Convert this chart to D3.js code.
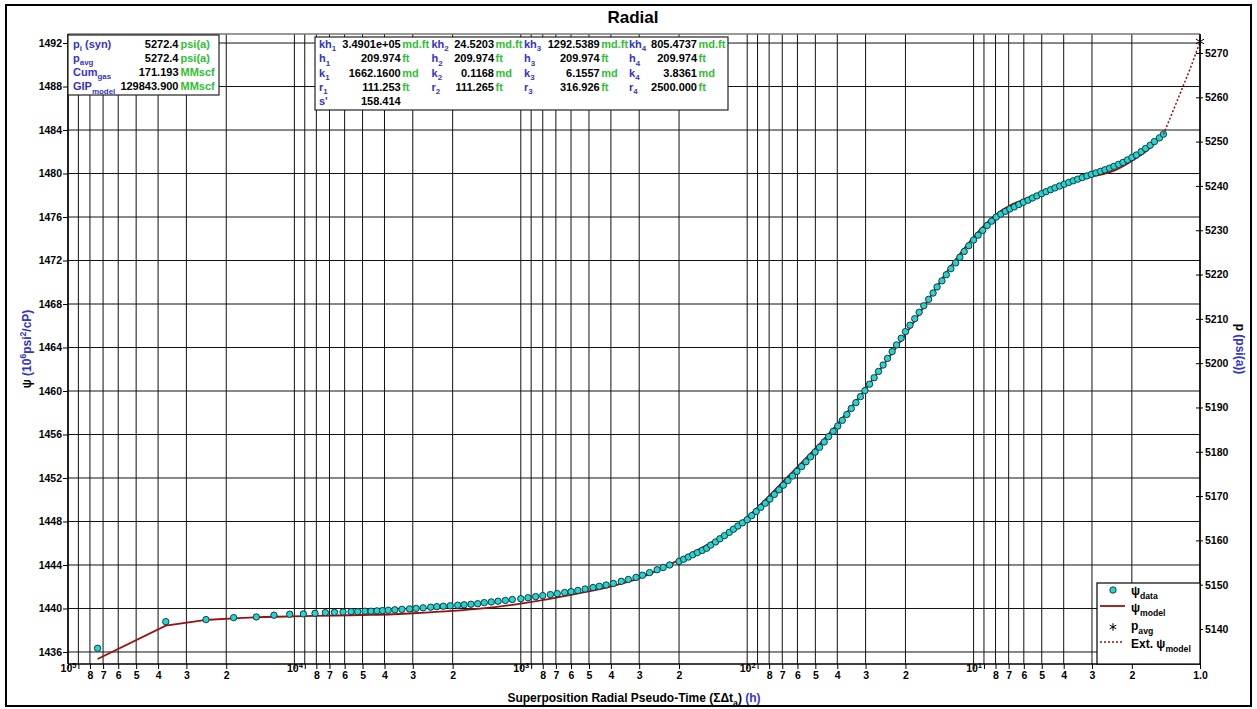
<!DOCTYPE html>
<html>
<head>
<meta charset="utf-8">
<script src="https://cdn.jsdelivr.net/npm/d3@7"></script>
<style>
	body { margin: 0; background: #fff; }
	svg text { font-family: "Liberation Sans", Arial, sans-serif; font-weight: bold; }
</style>
</head>
<body>
<script>
// Measured data (superposition time in h, pseudo-pressure in 10^6 psi2/cP)
const dataTime = [74000, 37000, 24580, 18550, 14730, 12310, 10490, 9130, 8110, 7300, 6660, 6100, 5620, 5255, 4877, 4588, 4318,
	4080, 3850, 3600, 3350, 3100, 2900, 2700, 2500, 2350, 2200, 2050, 1900, 1780, 1660, 1550, 1450, 1350, 1260, 1170, 1090,
	1000, 930, 860, 800, 740, 690, 640, 600, 560, 520, 480, 450, 420, 390, 360, 335, 310, 290, 270, 250, 235, 220,
	200, 191, 182, 174, 166, 158, 151, 145, 138, 132, 126, 120, 115, 110, 105,
	100, 95.5, 91.2, 87.1, 83.2, 79.4, 75.9, 72.4, 69.2, 66.1, 63.1, 60.3, 57.5, 55.0, 52.5, 50.1, 47.9, 45.7, 43.7, 41.7,
	39.8, 38.0, 36.3, 34.7, 33.1, 31.6, 30.2, 28.8, 27.5, 26.3, 25.1, 24.0, 22.9, 21.9, 20.9, 20.0, 19.1, 18.2, 17.4, 16.6,
	15.8, 15.1, 14.5, 13.8, 13.2, 12.6, 12.0, 11.5, 11.0, 10.5,
	10.0, 9.55, 9.12, 8.71, 8.32, 7.94, 7.59, 7.24, 6.92, 6.61, 6.31, 6.03, 5.75, 5.50, 5.25, 5.01, 4.79, 4.57, 4.37, 4.17,
	3.98, 3.80, 3.63, 3.47, 3.31, 3.16, 3.02, 2.88, 2.75, 2.63, 2.51, 2.40, 2.29, 2.19, 2.09, 2.00, 1.91, 1.82, 1.74, 1.66,
	1.59, 1.51, 1.45];
const dataPsi = [1436.34, 1438.79, 1438.98, 1439.16, 1439.22, 1439.38, 1439.47, 1439.50, 1439.56, 1439.62, 1439.65, 1439.68, 1439.71, 1439.71, 1439.75, 1439.75, 1439.78,
	1439.81, 1439.84, 1439.88, 1439.92, 1439.96, 1440.01, 1440.06, 1440.12, 1440.17, 1440.21, 1440.25, 1440.30, 1440.34, 1440.39, 1440.44, 1440.54, 1440.60, 1440.67, 1440.74, 1440.82,
	1440.90, 1440.99, 1441.09, 1441.18, 1441.28, 1441.37, 1441.47, 1441.55, 1441.66, 1441.79, 1441.93, 1442.04, 1442.16, 1442.30, 1442.50, 1442.67, 1442.86, 1443.06, 1443.30, 1443.56, 1443.77, 1444.00,
	1444.33, 1444.53, 1444.73, 1444.94, 1445.14, 1445.34, 1445.54, 1445.83, 1446.12, 1446.41, 1446.70, 1447.00, 1447.29, 1447.58, 1447.87,
	1448.16, 1448.54, 1448.92, 1449.30, 1449.68, 1450.06, 1450.49, 1450.91, 1451.34, 1451.76, 1452.18, 1452.61, 1453.05, 1453.49, 1453.94, 1454.38, 1454.82, 1455.31, 1455.80, 1456.29,
	1456.78, 1457.30, 1457.84, 1458.39, 1458.93, 1459.48, 1460.04, 1460.63, 1461.22, 1461.80, 1462.39, 1463.00, 1463.62, 1464.24, 1464.85, 1465.46, 1466.05, 1466.65, 1467.24, 1467.84,
	1468.43, 1469.01, 1469.57, 1470.13, 1470.69, 1471.25, 1471.78, 1472.30, 1472.83, 1473.36,
	1473.88, 1474.33, 1474.77, 1475.22, 1475.62, 1476.00, 1476.27, 1476.52, 1476.74, 1476.93, 1477.15, 1477.36, 1477.55, 1477.75, 1477.94, 1478.14, 1478.33, 1478.51, 1478.68, 1478.85,
	1479.02, 1479.18, 1479.33, 1479.48, 1479.63, 1479.78, 1479.92, 1480.06, 1480.20, 1480.34, 1480.49, 1480.66, 1480.84, 1481.02, 1481.25, 1481.47, 1481.70, 1482.00, 1482.30, 1482.60,
	1482.94, 1483.28, 1483.62];

// Model curve
const modelTime = [74000, 37000, 24500, 18500, 12000, 8110, 5000, 3665, 2990, 1995, 1514, 1000, 600, 300, 200, 100, 70, 40, 30, 20, 12, 10, 8.2, 7.4, 6.92, 5.46, 4.03, 3, 2.41, 2, 1.72, 1.45];
const modelPsi = [1435.36, 1438.42, 1438.95, 1439.10, 1439.24, 1439.32, 1439.40, 1439.47, 1439.56, 1439.78, 1439.99, 1440.45, 1441.25, 1442.79, 1444.47, 1448.40, 1451.60, 1456.95, 1460.20, 1465.20, 1472.10, 1474.15, 1476.00, 1476.72, 1477.05, 1477.95, 1479.08, 1479.72, 1480.24, 1481.16, 1482.08, 1483.60];

// Extrapolated model to pavg
const extTime = [1.45, 1.343, 1.185, 1.107, 1.0];
const extPsi = [1483.6, 1485.3, 1488.07, 1489.6, 1492.14];
const pavgTime = 1.0;
const pavgPsi = 1492.14;

// Tick values
const leftTicks = d3.range(1436, 1493, 4);
const rightTicks = d3.range(5140, 5271, 10);

// Info boxes
const infoLabels = [["p", "i", " (syn)"], ["p", "avg", ""], ["Cum", "gas", ""], ["GIP", "model", ""]];
const infoValues = ["5272.4", "5272.4", "171.193", "129843.900"];
const infoUnits = ["psi(a)", "psi(a)", "MMscf", "MMscf"];

const paramLabels = [
	[["kh", "1"], ["h", "1"], ["k", "1"], ["r", "1"], ["s'", ""]],
	[["kh", "2"], ["h", "2"], ["k", "2"], ["r", "2"]],
	[["kh", "3"], ["h", "3"], ["k", "3"], ["r", "3"]],
	[["kh", "4"], ["h", "4"], ["k", "4"], ["r", "4"]],
];
const paramValues = [
	["3.4901e+05", "209.974", "1662.1600", "111.253", "158.414"],
	["24.5203", "209.974", "0.1168", "111.265"],
	["1292.5389", "209.974", "6.1557", "316.926"],
	["805.4737", "209.974", "3.8361", "2500.000"],
];
const paramUnits = [
	["md.ft", "ft", "md", "ft", ""],
	["md.ft", "ft", "md", "ft"],
	["md.ft", "ft", "md", "ft"],
	["md.ft", "ft", "md", "ft"],
];

const W = 1257, H = 709;
const pL = 68, pR = 1200, pT = 34, pB = 664;
const blue = "#3434c8", green = "#30bf30", modelColor = "#9a1010";

const svg = d3.select("body").append("svg").attr("width", W).attr("height", H);

// outer frame
svg.append("rect").attr("x", 6).attr("y", 5).attr("width", 1245).attr("height", 701)
	.attr("fill", "#fff").attr("stroke", "#000").attr("stroke-width", 2);

// title
svg.append("text").attr("x", 633).attr("y", 23).attr("text-anchor", "middle")
	.attr("font-size", 17).text("Radial");

const x = d3.scaleLog().domain([1e5, 1]).range([pL, pR]);
const yL = d3.scaleLinear().domain([1434.895, 1492.83]).range([pB, pT]);
const yR = d3.scaleLinear().domain([5132.1, 5274.29]).range([pB, pT]);

// rich text helper: parts with sub / sup / fill
function rich(textSel, parts, size) {
	let shift = 0;
	parts.forEach((p) => {
		const want = p.sub ? size * 0.3 : p.sup ? -size * 0.4 : 0;
		const ts = textSel.append("tspan").text(p.t).attr("dy", want - shift);
		if (p.sub || p.sup) ts.attr("font-size", size * 0.72);
		if (p.fill) ts.attr("fill", p.fill);
		shift = want;
	});
}

// grid
const xTicks = x.ticks();
svg.append("g").selectAll("line").data(xTicks).enter().append("line")
	.attr("x1", (d) => x(d)).attr("x2", (d) => x(d)).attr("y1", pT).attr("y2", pB)
	.attr("stroke", "#111").attr("stroke-width", 1);
svg.append("g").selectAll("line").data(leftTicks).enter().append("line")
	.attr("x1", pL).attr("x2", pR).attr("y1", (d) => yL(d)).attr("y2", (d) => yL(d))
	.attr("stroke", "#111").attr("stroke-width", 1);

// x axis
const xAxis = d3.axisBottom(x).tickValues(xTicks).tickSize(5).tickPadding(3).tickFormat("");
const gx = svg.append("g").attr("transform", `translate(0,${pB})`).call(xAxis);
gx.select(".domain").remove();
gx.selectAll(".tick text").each(function (d) {
	const t = d3.select(this).attr("font-size", 10.5).attr("fill", "#000");
	const e = Math.floor(Math.log10(d) + 1e-9);
	const m = Math.round(d / Math.pow(10, e));
	if (m === 1) {
		if (e === 0) t.text("1.0");
		else rich(t, [{ t: "10" }, { t: String(e), sup: true }], 10.5);
	} else if (m !== 9) {
		t.text(m);
	}
});

// left axis
const gl = svg.append("g").attr("transform", `translate(${pL},0)`)
	.call(d3.axisLeft(yL).tickValues(leftTicks).tickSize(5).tickPadding(1).tickFormat(d3.format("d")));
gl.select(".domain").remove();
gl.selectAll(".tick text").attr("font-size", 10.5).attr("fill", "#000");

// right axis
const gr = svg.append("g").attr("transform", `translate(${pR},0)`)
	.call(d3.axisRight(yR).tickValues(rightTicks).tickSize(3).tickPadding(2).tickFormat(d3.format("d")));
gr.select(".domain").remove();
gr.selectAll(".tick line").attr("x1", -4);
gr.selectAll(".tick text").attr("font-size", 10.5).attr("fill", "#000");

// plot frame
svg.append("line").attr("x1", pL).attr("x2", pR).attr("y1", pT).attr("y2", pT).attr("stroke", "#777").attr("stroke-width", 1.5);
svg.append("line").attr("x1", pL).attr("x2", pL).attr("y1", pT).attr("y2", pB).attr("stroke", "#000").attr("stroke-width", 1.5);
svg.append("line").attr("x1", pR).attr("x2", pR).attr("y1", pT).attr("y2", pB).attr("stroke", "#000").attr("stroke-width", 1.5);
svg.append("line").attr("x1", pL).attr("x2", pR).attr("y1", pB).attr("y2", pB).attr("stroke", "#000").attr("stroke-width", 1.5);

// axis titles
const xt = svg.append("text").attr("x", 634).attr("y", 702).attr("text-anchor", "middle").attr("font-size", 12);
rich(xt, [{ t: "Superposition Radial Pseudo-Time (ΣΔt" }, { t: "a", sub: true }, { t: ")" }, { t: " (h)", fill: blue }], 12);

const ylt = svg.append("text").attr("transform", `translate(31,${(pT + pB) / 2}) rotate(-90)`)
	.attr("text-anchor", "middle").attr("font-size", 12);
rich(ylt, [{ t: "ψ " }, { t: "(10", fill: blue }, { t: "6", sup: true, fill: blue }, { t: "psi", fill: blue },
	{ t: "2", sup: true, fill: blue }, { t: "/cP)", fill: blue }], 12);

const yrt = svg.append("text").attr("transform", `translate(1236,${(pT + pB) / 2}) rotate(90)`)
	.attr("text-anchor", "middle").attr("font-size", 12);
rich(yrt, [{ t: "p " }, { t: "(psi(a))", fill: blue }], 12);

// curves
svg.append("clipPath").attr("id", "clip").append("rect")
	.attr("x", pL).attr("y", pT).attr("width", pR - pL).attr("height", pB - pT);
const plot = svg.append("g").attr("clip-path", "url(#clip)");

const modelPts = d3.zip(modelTime, modelPsi);
const lineLin = d3.line().x((d) => x(d[0])).y((d) => yL(d[1]));
const lineSmooth = d3.line().x((d) => x(d[0])).y((d) => yL(d[1])).curve(d3.curveMonotoneX);
// early-time part is drawn straight, the rest smooth
plot.append("path").datum(modelPts.slice(0, 3)).attr("d", lineLin)
	.attr("fill", "none").attr("stroke", modelColor).attr("stroke-width", 1.8);
plot.append("path").datum(modelPts.slice(2)).attr("d", lineSmooth)
	.attr("fill", "none").attr("stroke", modelColor).attr("stroke-width", 1.8);

plot.append("g").selectAll("circle").data(d3.zip(dataTime, dataPsi)).enter().append("circle")
	.attr("cx", (d) => x(d[0])).attr("cy", (d) => yL(d[1])).attr("r", 3.2)
	.attr("fill", "#26d2d2").attr("stroke", "#0a2e2e").attr("stroke-width", 0.9);

plot.append("path").datum(d3.zip(extTime, extPsi)).attr("d", lineSmooth)
	.attr("fill", "none").attr("stroke", modelColor).attr("stroke-width", 1.5).attr("stroke-dasharray", "2,2");

const star = d3.symbol().type(d3.symbolAsterisk || d3.symbolCross).size(60);
svg.append("path").attr("d", star()).attr("transform", `translate(${x(pavgTime)},${yL(pavgPsi)})`)
	.attr("fill", "none").attr("stroke", "#000").attr("stroke-width", 1);

// info box 1
svg.append("rect").attr("x", 68).attr("y", 35).attr("width", 151).attr("height", 60)
	.attr("fill", "#fff").attr("stroke", "#222").attr("stroke-width", 1.2);
infoLabels.forEach((lab, i) => {
	const yy = 47.5 + i * 14.3;
	const t = svg.append("text").attr("x", 73).attr("y", yy).attr("font-size", 11).attr("fill", blue);
	rich(t, [{ t: lab[0] }, { t: lab[1], sub: true }, { t: lab[2] }], 11);
	svg.append("text").attr("x", 178.5).attr("y", yy).attr("text-anchor", "end").attr("font-size", 11).text(infoValues[i]);
	svg.append("text").attr("x", 180.5).attr("y", yy).attr("font-size", 11).attr("fill", green).text(infoUnits[i]);
});

// info box 2
svg.append("rect").attr("x", 315).attr("y", 37).attr("width", 413).attr("height", 73)
	.attr("fill", "#fff").attr("stroke", "#222").attr("stroke-width", 1.2);
const colLabelX = [319, 431.5, 524, 629];
const colValueX = [400.7, 494, 599.7, 697];
paramLabels.forEach((col, c) => {
	col.forEach((lab, r) => {
		const yy = 48 + r * 14.3;
		const t = svg.append("text").attr("x", colLabelX[c]).attr("y", yy).attr("font-size", 11).attr("fill", blue);
		rich(t, [{ t: lab[0] }, { t: lab[1], sub: true }], 11);
		svg.append("text").attr("x", colValueX[c]).attr("y", yy).attr("text-anchor", "end").attr("font-size", 11).text(paramValues[c][r]);
		svg.append("text").attr("x", colValueX[c] + 1.5).attr("y", yy).attr("font-size", 11).attr("fill", green).text(paramUnits[c][r]);
	});
});

// legend
const lg = svg.append("g");
lg.append("rect").attr("x", 1097).attr("y", 583).attr("width", 103).attr("height", 81)
	.attr("fill", "#fff").attr("stroke", "#000").attr("stroke-width", 1.2);
lg.append("circle").attr("cx", 1113).attr("cy", 590).attr("r", 3.2)
	.attr("fill", "#26d2d2").attr("stroke", "#0a2e2e").attr("stroke-width", 0.9);
lg.append("line").attr("x1", 1100).attr("x2", 1125).attr("y1", 606).attr("y2", 606)
	.attr("stroke", modelColor).attr("stroke-width", 1.8);
lg.append("path").attr("d", star.size(40)()).attr("transform", "translate(1113,627)")
	.attr("fill", "none").attr("stroke", "#000").attr("stroke-width", 1);
lg.append("line").attr("x1", 1100).attr("x2", 1123).attr("y1", 642).attr("y2", 642)
	.attr("stroke", modelColor).attr("stroke-width", 1.5).attr("stroke-dasharray", "2,2");
const legendParts = [
	[{ t: "ψ" }, { t: "data", sub: true }],
	[{ t: "ψ" }, { t: "model", sub: true }],
	[{ t: "p" }, { t: "avg", sub: true }],
	[{ t: "Ext. ψ" }, { t: "model", sub: true }],
];
const legendY = [595, 612, 630, 648];
legendParts.forEach((p, i) => {
	const t = lg.append("text").attr("x", 1131).attr("y", legendY[i]).attr("font-size", 12);
	rich(t, p, 12);
});
</script>
</body>
</html>
